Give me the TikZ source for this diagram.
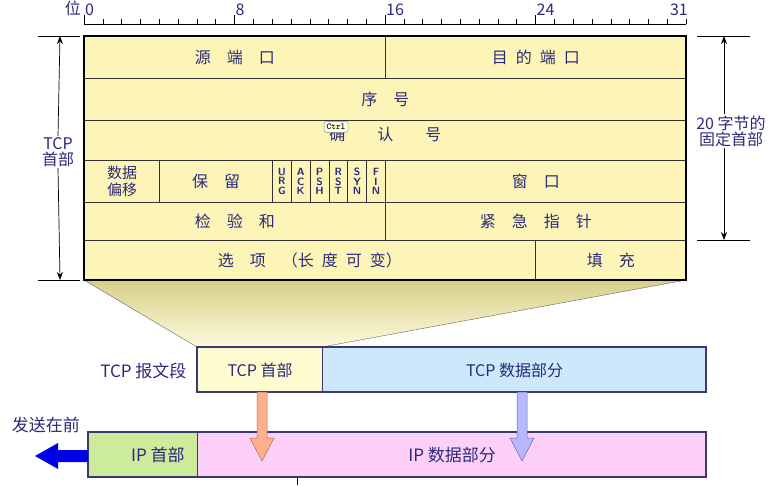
\documentclass[tikz,border=0pt]{standalone}
\usepackage{fontspec}
\setmainfont{Noto Sans CJK SC}
\usetikzlibrary{arrows.meta}
\definecolor{tx}{HTML}{2B2B7A}
\definecolor{hy}{HTML}{FDF5B8}
\definecolor{ty}{HTML}{FFFBD0}
\definecolor{tb}{HTML}{CCE8FA}
\definecolor{ig}{HTML}{CDEB9C}
\definecolor{ip}{HTML}{FDD0FA}
\definecolor{bd}{HTML}{3A3A70}
\definecolor{kh}{HTML}{D6CF8A}
\tikzset{
  cell/.style={draw=black!80,line width=0.8pt,fill=hy},
  lab/.style={text=tx,font=\fontsize{16}{18}\selectfont},
  big/.style={text=tx,font=\fontsize{17}{19}\selectfont},
  flag/.style={text=tx,font=\sffamily\bfseries\fontsize{10.5}{9.5}\selectfont,align=center},
  seg/.style={draw=bd,line width=1.2pt},
  dim/.style={-{Stealth[length=8pt]},line width=0.7pt},
}
\begin{document}
\begin{tikzpicture}[x=1pt,y=-1pt]
\useasboundingbox[fill=white] (0,0) rectangle (777,485);
% trapezoid
\shade[top color=kh,bottom color=hy!50] (84,280) -- (686,280) -- (322,347) -- (197,347) -- cycle;
\draw[black!60] (84,280) -- (197,347);
\draw[black!60] (686,280) -- (322,347);
% ruler
\draw[line width=0.8pt] (84,24) -- (686,24);
\foreach \i in {0,...,32}{\draw (84+18.8125*\i,24) -- (84+18.8125*\i,19);}
\foreach \i in {0,8,16,24}{\draw[line width=0.8pt] (84+18.8125*\i,24) -- (84+18.8125*\i,15);
  \node[lab,anchor=south west,inner sep=1pt] (r\i) at (84+18.8125*\i,17) {\i};}
\node[lab,anchor=south east,inner sep=1pt] (r31) at (689,17) {31};
\node[lab,anchor=south east,inner sep=1pt] (wei) at (82,17) {位};
% header cells
\def\bw{18.8125}
\node[cell,minimum width=301pt,minimum height=42pt,anchor=north west,inner sep=0] (sp) at (84,36) {};
\node[lab] at (sp) {源\quad 端\quad 口};
\node[cell,minimum width=301pt,minimum height=42pt,anchor=north west,inner sep=0] (dp) at (385,36) {};
\node[lab] at (dp) {目\enspace 的\enspace 端\enspace 口};
\node[cell,minimum width=602pt,minimum height=42pt,anchor=north west,inner sep=0] (seq) at (84,78) {};
\node[lab] at (seq) {序\quad 号};
\node[cell,minimum width=602pt,minimum height=40pt,anchor=north west,inner sep=0] (ack) at (84,120) {};
\node[lab] at ([yshift=6pt]ack) {确\qquad 认\qquad 号};
\node[cell,minimum width=75.25pt,minimum height=42pt,anchor=north west,inner sep=0] (off) at (84,160) {};
\node[lab,align=center,font=\fontsize{15}{17}\selectfont] at (off) {数据\\偏移};
\node[cell,minimum width=112.9pt,minimum height=42pt,anchor=north west,inner sep=0] (res) at (159.25,160) {};
\node[lab] at (res) {保\quad 留};
\foreach \f [count=\k from 0] in {U\\R\\G,A\\C\\K,P\\S\\H,R\\S\\T,S\\Y\\N,F\\I\\N}{
  \node[cell,minimum width=\bw pt,minimum height=42pt,anchor=north west,inner sep=0] (fl\k) at (272.1+\bw*\k,160) {};
  \node[flag] at (fl\k) {\f};}
\node[cell,minimum width=301pt,minimum height=42pt,anchor=north west,inner sep=0] (win) at (385,160) {};
\node[lab] at (win) {窗\quad 口};
\node[cell,minimum width=301pt,minimum height=38pt,anchor=north west,inner sep=0] (chk) at (84,202) {};
\node[lab] at (chk) {检\quad 验\quad 和};
\node[cell,minimum width=301pt,minimum height=38pt,anchor=north west,inner sep=0] (urg) at (385,202) {};
\node[lab] at (urg) {紧\quad 急\quad 指\quad 针};
\node[cell,minimum width=451pt,minimum height=40pt,anchor=north west,inner sep=0] (opt) at (84,240) {};
\node[lab] at (opt) {选\quad 项\quad （长\enspace 度\enspace 可\enspace 变）};
\node[cell,minimum width=151pt,minimum height=40pt,anchor=north west,inner sep=0] (pad) at (535,240) {};
\node[lab] at (pad) {填\quad 充};
\draw[line width=1.6pt] (84,36) rectangle (686,280);
% Ctrl tooltip
\node[draw=black!50,fill=yellow!8,rounded corners=2pt,font=\ttfamily\bfseries\fontsize{9}{10}\selectfont,inner sep=2.5pt] (ctrl) at (336,127) {Ctrl};
% left dimension
\coordinate (lt) at (60,36); \coordinate (lb) at (60,280);
\draw[line width=0.8pt] (38,36) -- (80,36) (38,280) -- (80,280);
\node[lab,align=center,fill=white,inner sep=1pt] (tcph) at (58,152) {TCP\\[-2pt]首部};
\draw[dim] (tcph.north) -- (lt);
\draw[dim] (tcph.south) -- (lb);
% right dimension
\coordinate (rt) at (724,36); \coordinate (rb) at (724,240);
\draw[line width=0.8pt] (697,36) -- (750,36) (697,240) -- (750,240);
\node[lab,align=center,fill=white,inner sep=1pt] (fix) at (731,131) {20 字节的\\[-2pt]固定首部};
\draw[dim] (fix.north -| rt) -- (rt);
\draw[dim] (fix.south -| rt) -- (rb);
% TCP segment
\node[seg,fill=ty,minimum width=125pt,minimum height=45pt,anchor=north west,inner sep=0] (th) at (197,347) {};
\node[lab] at (th) {TCP 首部};
\node[seg,fill=tb,minimum width=384pt,minimum height=45pt,anchor=north west,inner sep=0] (td) at (322,347) {};
\node[lab] at (td) {TCP 数据部分};
\draw[seg] (197,347) rectangle (706,392);
\node[big,anchor=east] (tseg) at (190,371) {TCP 报文段};
% IP datagram
\node[seg,fill=ig,minimum width=109pt,minimum height=45pt,anchor=north west,inner sep=0] (ih) at (88,432) {};
\node[big,anchor=east] at ([xshift=-10pt]ih.east) {IP 首部};
\node[seg,fill=ip,minimum width=509pt,minimum height=45pt,anchor=north west,inner sep=0] (id) at (197,432) {};
\node[big] at (id) {IP 数据部分};
\draw[seg] (88,432) rectangle (706,477);
\draw[black] (297,477) -- (297,485);
% down arrows
\draw[draw=red!50!black!60,fill=red!40!orange!45,line width=0.5pt] (257,392) -- (267,392) -- (267,438) -- (274,438) -- (262,461) -- (250,438) -- (257,438) -- cycle;
\draw[draw=blue!50!black!60,fill=blue!35!white!80,line width=0.5pt] (517,392) -- (527,392) -- (527,438) -- (534,438) -- (522,461) -- (510,438) -- (517,438) -- cycle;
% send-first arrow
\fill[blue!90!black] (88,450) -- (58,450) -- (58,443) -- (35,456) -- (58,469) -- (58,462) -- (88,462) -- cycle;
\node[big] (send) at (46,425) {发送在前};
\end{tikzpicture}
\end{document}
